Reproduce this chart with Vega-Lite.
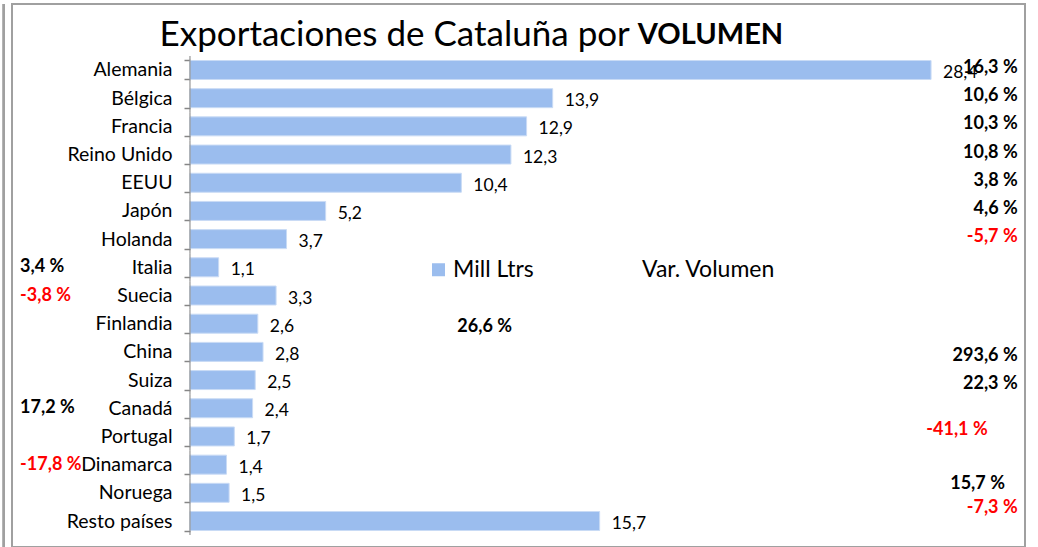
{
  "$schema": "https://vega.github.io/schema/vega-lite/v6.json",
  "width": 1013,
  "height": 543,
  "autosize": {"type": "none"},
  "padding": {"left": 12, "top": 4, "right": 13, "bottom": 0},
  "background": "white",
  "config": {
    "font": "Lato",
    "view": {"stroke": "#a0a0a0", "strokeWidth": 2}
  },
  "data": {
    "values": [
      {"country": "Alemania", "mill": 28.4, "var": 16.3},
      {"country": "Bélgica", "mill": 13.9, "var": 10.6},
      {"country": "Francia", "mill": 12.9, "var": 10.3},
      {"country": "Reino Unido", "mill": 12.3, "var": 10.8},
      {"country": "EEUU", "mill": 10.4, "var": 3.8},
      {"country": "Japón", "mill": 5.2, "var": 4.6},
      {"country": "Holanda", "mill": 3.7, "var": -5.7},
      {"country": "Italia", "mill": 1.1, "var": 3.4},
      {"country": "Suecia", "mill": 3.3, "var": -3.8},
      {"country": "Finlandia", "mill": 2.6, "var": 26.6},
      {"country": "China", "mill": 2.8, "var": 293.6},
      {"country": "Suiza", "mill": 2.5, "var": 22.3},
      {"country": "Canadá", "mill": 2.4, "var": 17.2},
      {"country": "Portugal", "mill": 1.7, "var": -41.1},
      {"country": "Dinamarca", "mill": 1.4, "var": -17.8},
      {"country": "Noruega", "mill": 1.5, "var": 15.7},
      {"country": "Resto países", "mill": 15.7, "var": -7.3}
    ]
  },
  "transform": [
    {"calculate": "replace(toString(datum.mill), '.', ',')", "as": "millLabel"},
    {"calculate": "replace(toString(datum['var']), '.', ',') + ' %'", "as": "varLabel"}
  ],
  "layer": [
    {
      "mark": {"type": "bar", "stroke": "#c9dbf5", "strokeWidth": 1},
      "encoding": {
        "y": {
          "field": "country",
          "type": "nominal",
          "scale": {
            "type": "band",
            "domain": ["Alemania", "Bélgica", "Francia", "Reino Unido", "EEUU", "Japón", "Holanda", "Italia", "Suecia", "Finlandia", "China", "Suiza", "Canadá", "Portugal", "Dinamarca", "Noruega", "Resto países"],
            "range": [51.9, 531.1],
            "paddingInner": 0.326,
            "paddingOuter": 0.163
          },
          "axis": {
            "orient": "left",
            "offset": -178,
            "domain": false,
            "tickBand": "extent",
            "tickOffset": -4.6,
            "tickSize": 6,
            "tickColor": "#868686",
            "tickWidth": 1.5,
            "labelFont": "Lato",
            "labelFontSize": 19.5,
            "labelColor": "black",
            "labelPadding": 12,
            "title": null
          }
        },
        "x": {
          "field": "mill",
          "type": "quantitative",
          "scale": {"domain": [-6.82, 32], "nice": false, "zero": false},
          "axis": null
        },
        "x2": {"datum": 0},
        "color": {
          "datum": "Mill Ltrs",
          "scale": {"domain": ["Mill Ltrs", "Var. Volumen"], "range": ["#9bbdee", "transparent"]},
          "legend": {
            "orient": "none",
            "legendX": 415,
            "legendY": 254,
            "direction": "horizontal",
            "title": null,
            "symbolType": "square",
            "symbolSize": 169,
            "symbolStrokeWidth": 0,
            "labelFont": "Lato",
            "labelFontSize": 23,
            "labelColor": "black",
            "labelOffset": 3,
            "columnPadding": 82,
            "padding": 0
          }
        }
      }
    },
    {
      "mark": {"type": "tick", "orient": "vertical", "size": 28.19, "thickness": 1.5, "color": "#868686"},
      "encoding": {
        "x": {"datum": 0, "type": "quantitative"},
        "y": {"field": "country", "type": "nominal"}
      }
    },
    {
      "mark": {"type": "rule", "color": "#a0a0a0", "strokeWidth": 2},
      "encoding": {"x": {"datum": -7.13, "type": "quantitative"}}
    },
    {
      "mark": {"type": "text", "align": "left", "baseline": "middle", "dx": 12, "dy": 3, "fontSize": 17.5, "color": "black"},
      "encoding": {
        "x": {"field": "mill", "type": "quantitative"},
        "y": {"field": "country", "type": "nominal"},
        "text": {"field": "millLabel"}
      }
    },
    {
      "transform": [{"filter": {"field": "country", "oneOf": ["Alemania", "Bélgica", "Francia", "Reino Unido", "EEUU", "Japón", "Holanda"]}}],
      "mark": {"type": "text", "align": "right", "baseline": "middle", "dy": -2, "fontSize": 18, "fontWeight": "bold"},
      "encoding": {
        "x": {"datum": 31.72, "type": "quantitative"},
        "y": {"field": "country", "type": "nominal"},
        "text": {"field": "varLabel"},
        "color": {"condition": {"test": "datum['var'] < 0", "value": "#ff0000"}, "value": "black"}
      }
    },
    {
      "transform": [{"filter": {"field": "country", "oneOf": ["China", "Suiza"]}}],
      "mark": {"type": "text", "align": "right", "baseline": "middle", "dy": 4, "fontSize": 18, "fontWeight": "bold"},
      "encoding": {
        "x": {"datum": 31.72, "type": "quantitative"},
        "y": {"field": "country", "type": "nominal"},
        "text": {"field": "varLabel"},
        "color": {"condition": {"test": "datum['var'] < 0", "value": "#ff0000"}, "value": "black"}
      }
    },
    {
      "transform": [{"filter": {"field": "country", "equal": "Resto países"}}],
      "mark": {"type": "text", "align": "right", "baseline": "middle", "dy": -13, "fontSize": 18, "fontWeight": "bold"},
      "encoding": {
        "x": {"datum": 31.72, "type": "quantitative"},
        "y": {"field": "country", "type": "nominal"},
        "text": {"field": "varLabel"},
        "color": {"condition": {"test": "datum['var'] < 0", "value": "#ff0000"}, "value": "black"}
      }
    },
    {
      "transform": [{"filter": {"field": "country", "equal": "Noruega"}}],
      "mark": {"type": "text", "align": "right", "baseline": "middle", "dy": -9, "fontSize": 18, "fontWeight": "bold"},
      "encoding": {
        "x": {"datum": 31.23, "type": "quantitative"},
        "y": {"field": "country", "type": "nominal"},
        "text": {"field": "varLabel"},
        "color": {"condition": {"test": "datum['var'] < 0", "value": "#ff0000"}, "value": "black"}
      }
    },
    {
      "transform": [{"filter": {"field": "country", "equal": "Portugal"}}],
      "mark": {"type": "text", "align": "right", "baseline": "middle", "dy": -6, "fontSize": 18, "fontWeight": "bold"},
      "encoding": {
        "x": {"datum": 30.57, "type": "quantitative"},
        "y": {"field": "country", "type": "nominal"},
        "text": {"field": "varLabel"},
        "color": {"condition": {"test": "datum['var'] < 0", "value": "#ff0000"}, "value": "black"}
      }
    },
    {
      "transform": [{"filter": {"field": "country", "equal": "Finlandia"}}],
      "mark": {"type": "text", "align": "right", "baseline": "middle", "dy": 3.5, "fontSize": 18, "fontWeight": "bold"},
      "encoding": {
        "x": {"datum": 12.34, "type": "quantitative"},
        "y": {"field": "country", "type": "nominal"},
        "text": {"field": "varLabel"},
        "color": {"condition": {"test": "datum['var'] < 0", "value": "#ff0000"}, "value": "black"}
      }
    },
    {
      "transform": [{"filter": {"field": "country", "oneOf": ["Italia", "Suecia", "Canadá", "Dinamarca"]}}],
      "mark": {"type": "text", "align": "left", "baseline": "middle", "dy": 0, "fontSize": 18, "fontWeight": "bold"},
      "encoding": {
        "x": {"datum": -6.51, "type": "quantitative"},
        "y": {"field": "country", "type": "nominal"},
        "text": {"field": "varLabel"},
        "color": {"condition": {"test": "datum['var'] < 0", "value": "#ff0000"}, "value": "black"}
      }
    },
    {
      "data": {"values": [{}]},
      "mark": {"type": "text", "align": "right", "baseline": "middle", "dx": -4, "dy": -35, "fontSize": 35, "color": "black", "text": "Exportaciones de Cataluña por"},
      "encoding": {
        "x": {"datum": 17.01, "type": "quantitative"},
        "y": {"datum": "Alemania", "type": "nominal"}
      }
    },
    {
      "data": {"values": [{}]},
      "mark": {"type": "text", "align": "left", "baseline": "middle", "dx": 4, "dy": -35, "fontSize": 29, "fontWeight": "bold", "color": "black", "text": "VOLUMEN"},
      "encoding": {
        "x": {"datum": 17.01, "type": "quantitative"},
        "y": {"datum": "Alemania", "type": "nominal"}
      }
    }
  ]
}
